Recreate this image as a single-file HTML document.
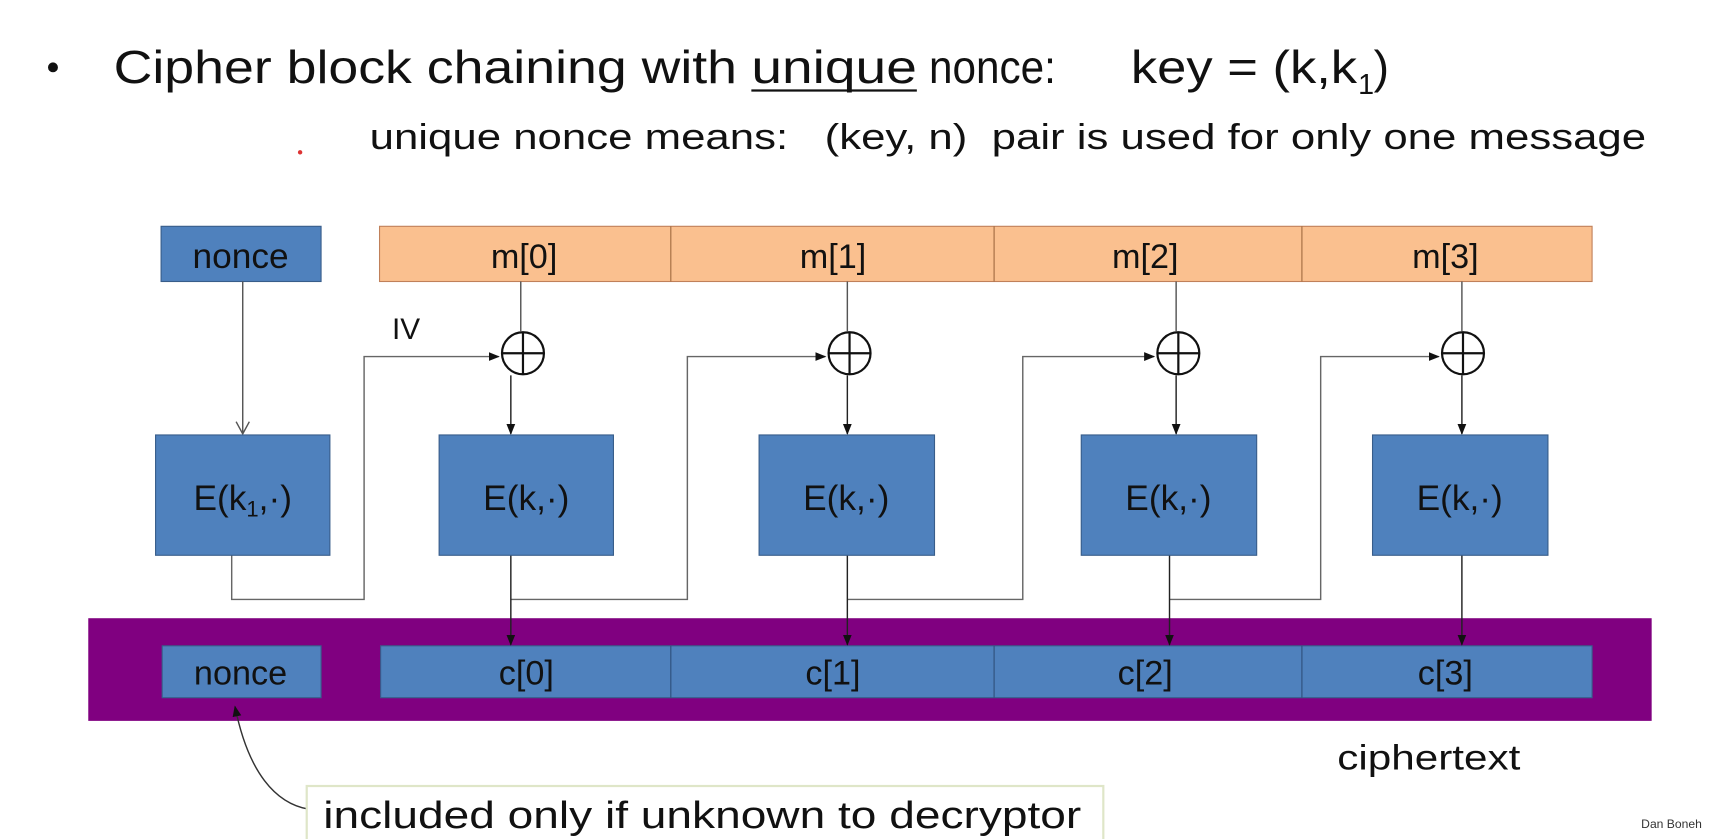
<!DOCTYPE html>
<html><head><meta charset="utf-8"><style>
html,body{margin:0;padding:0;background:#fff;}
svg{display:block;}
text{font-family:"Liberation Sans",Arial,sans-serif;}
</style></head><body>
<svg width="1730" height="839" viewBox="0 0 1568 760" preserveAspectRatio="none" xmlns="http://www.w3.org/2000/svg">
<defs>
<marker id="a" markerWidth="10" markerHeight="10" refX="9" refY="5" orient="auto" markerUnits="userSpaceOnUse"><path d="M0,1 L10,5 L0,9 Z" fill="#111"/></marker>
</defs>
<rect width="1568" height="760" fill="#fff"/>
<circle cx="48" cy="61" r="4.5" fill="#111"/>
<text x="103" y="75" font-size="42" fill="#111" textLength="565" lengthAdjust="spacingAndGlyphs">Cipher block chaining with</text>
<text x="681" y="75" font-size="42" fill="#111" textLength="150" lengthAdjust="spacingAndGlyphs">unique</text>
<line x1="681" y1="82" x2="831" y2="82" stroke="#111" stroke-width="2"/>
<text x="842" y="75" font-size="42" fill="#111" textLength="115" lengthAdjust="spacingAndGlyphs">nonce:</text>
<text x="1025" y="75" font-size="42" fill="#111" textLength="205" lengthAdjust="spacingAndGlyphs">key = (k,k</text>
<text x="1231" y="85" font-size="26" fill="#111">1</text>
<text x="1245" y="75" font-size="42" fill="#111">)</text>
<text x="335" y="135" font-size="33" fill="#111" textLength="1157" lengthAdjust="spacingAndGlyphs" xml:space="preserve">unique nonce means:   (key, n)  pair is used for only one message</text>
<circle cx="272" cy="138" r="2" fill="#d33"/>

<rect x="146" y="205" width="145" height="50" fill="#4f81bd" stroke="#385d8a"/>
<text x="218" y="243" font-size="32" text-anchor="middle" fill="#111">nonce</text>
<rect x="344" y="205" width="1099" height="50" fill="#fac08f" stroke="#c0805a"/>
<g stroke="#a06a40"><line x1="608" y1="205" x2="608" y2="255"/><line x1="901" y1="205" x2="901" y2="255"/><line x1="1180" y1="205" x2="1180" y2="255"/></g>
<g font-size="31" text-anchor="middle" fill="#111">
<text x="475" y="243">m[0]</text><text x="755" y="243">m[1]</text><text x="1038" y="243">m[2]</text><text x="1310" y="243">m[3]</text></g>

<g stroke="#555" stroke-width="1.3" fill="none">
<line x1="220" y1="255" x2="220" y2="393"/>
<polyline points="214,382 220,393 226,382"/>
<line x1="472" y1="255" x2="472" y2="300"/><line x1="768" y1="255" x2="768" y2="300"/><line x1="1066" y1="255" x2="1066" y2="300"/><line x1="1325" y1="255" x2="1325" y2="300"/>
</g>
<g stroke="#222" stroke-width="1.3" fill="none">
<line x1="463" y1="340" x2="463" y2="393" marker-end="url(#a)"/>
<line x1="768" y1="340" x2="768" y2="393" marker-end="url(#a)"/>
<line x1="1066" y1="340" x2="1066" y2="393" marker-end="url(#a)"/>
<line x1="1325" y1="340" x2="1325" y2="393" marker-end="url(#a)"/>
<polyline points="210,503 210,543 330,543 330,323 452,323" marker-end="url(#a)" stroke="#666"/>
<polyline points="463,543 623,543 623,323 748,323" marker-end="url(#a)" stroke="#666"/>
<polyline points="768,543 927,543 927,323 1046,323" marker-end="url(#a)" stroke="#666"/>
<polyline points="1060,543 1197,543 1197,323 1304,323" marker-end="url(#a)" stroke="#666"/>
<line x1="463" y1="503" x2="463" y2="584" marker-end="url(#a)"/>
<line x1="768" y1="503" x2="768" y2="584" marker-end="url(#a)"/>
<line x1="1060" y1="503" x2="1060" y2="584" marker-end="url(#a)"/>
<line x1="1325" y1="503" x2="1325" y2="584" marker-end="url(#a)"/>
</g>
<text x="368" y="307" font-size="27" text-anchor="middle" fill="#111">IV</text>
<g stroke="#111" stroke-width="2" fill="#fff">
<circle cx="474" cy="320" r="19"/><circle cx="770" cy="320" r="19"/><circle cx="1068" cy="320" r="19"/><circle cx="1326" cy="320" r="19"/></g>
<g stroke="#111" stroke-width="2">
<line x1="474" y1="301" x2="474" y2="339"/><line x1="455" y1="320" x2="493" y2="320"/>
<line x1="770" y1="301" x2="770" y2="339"/><line x1="751" y1="320" x2="789" y2="320"/>
<line x1="1068" y1="301" x2="1068" y2="339"/><line x1="1049" y1="320" x2="1087" y2="320"/>
<line x1="1326" y1="301" x2="1326" y2="339"/><line x1="1307" y1="320" x2="1345" y2="320"/></g>

<g fill="#4f81bd" stroke="#385d8a">
<rect x="141" y="394" width="158" height="109"/><rect x="398" y="394" width="158" height="109"/><rect x="688" y="394" width="159" height="109"/><rect x="980" y="394" width="159" height="109"/><rect x="1244" y="394" width="159" height="109"/></g>
<g font-size="32" text-anchor="middle" fill="#111">
<text x="220" y="462">E(k<tspan font-size="20" dy="6">1</tspan><tspan dy="-6">,·)</tspan></text>
<text x="477" y="462">E(k,·)</text><text x="767" y="462">E(k,·)</text><text x="1059" y="462">E(k,·)</text><text x="1323" y="462">E(k,·)</text></g>

<rect x="80" y="560" width="1417" height="93" fill="#800080"/>
<rect x="147" y="585" width="144" height="47" fill="#4f81bd" stroke="#385d8a"/>
<rect x="345" y="585" width="1098" height="47" fill="#4f81bd" stroke="#385d8a"/>
<g stroke="#2e4f7a"><line x1="608" y1="585" x2="608" y2="632"/><line x1="901" y1="585" x2="901" y2="632"/><line x1="1180" y1="585" x2="1180" y2="632"/></g>
<g stroke="#222" stroke-width="1.3" fill="none">
<line x1="463" y1="560" x2="463" y2="584" marker-end="url(#a)"/><line x1="768" y1="560" x2="768" y2="584" marker-end="url(#a)"/><line x1="1060" y1="560" x2="1060" y2="584" marker-end="url(#a)"/><line x1="1325" y1="560" x2="1325" y2="584" marker-end="url(#a)"/></g>
<g font-size="31" text-anchor="middle" fill="#111">
<text x="218" y="620">nonce</text><text x="477" y="620">c[0]</text><text x="755" y="620">c[1]</text><text x="1038" y="620">c[2]</text><text x="1310" y="620">c[3]</text></g>
<text x="1212" y="697" font-size="32" fill="#111" textLength="166" lengthAdjust="spacingAndGlyphs">ciphertext</text>

<path d="M280,733 C250,728 225,700 213,640" stroke="#333" stroke-width="1.3" fill="none" marker-end="url(#a)"/>
<rect x="278" y="712" width="722" height="52" fill="#fff" stroke="#dfe6c8" stroke-width="2"/>
<text x="293" y="750" font-size="34" fill="#111" textLength="687" lengthAdjust="spacingAndGlyphs">included only if unknown to decryptor</text>
<text x="1515" y="750" font-size="11" text-anchor="middle" fill="#333">Dan Boneh</text>
</svg>
</body></html>
